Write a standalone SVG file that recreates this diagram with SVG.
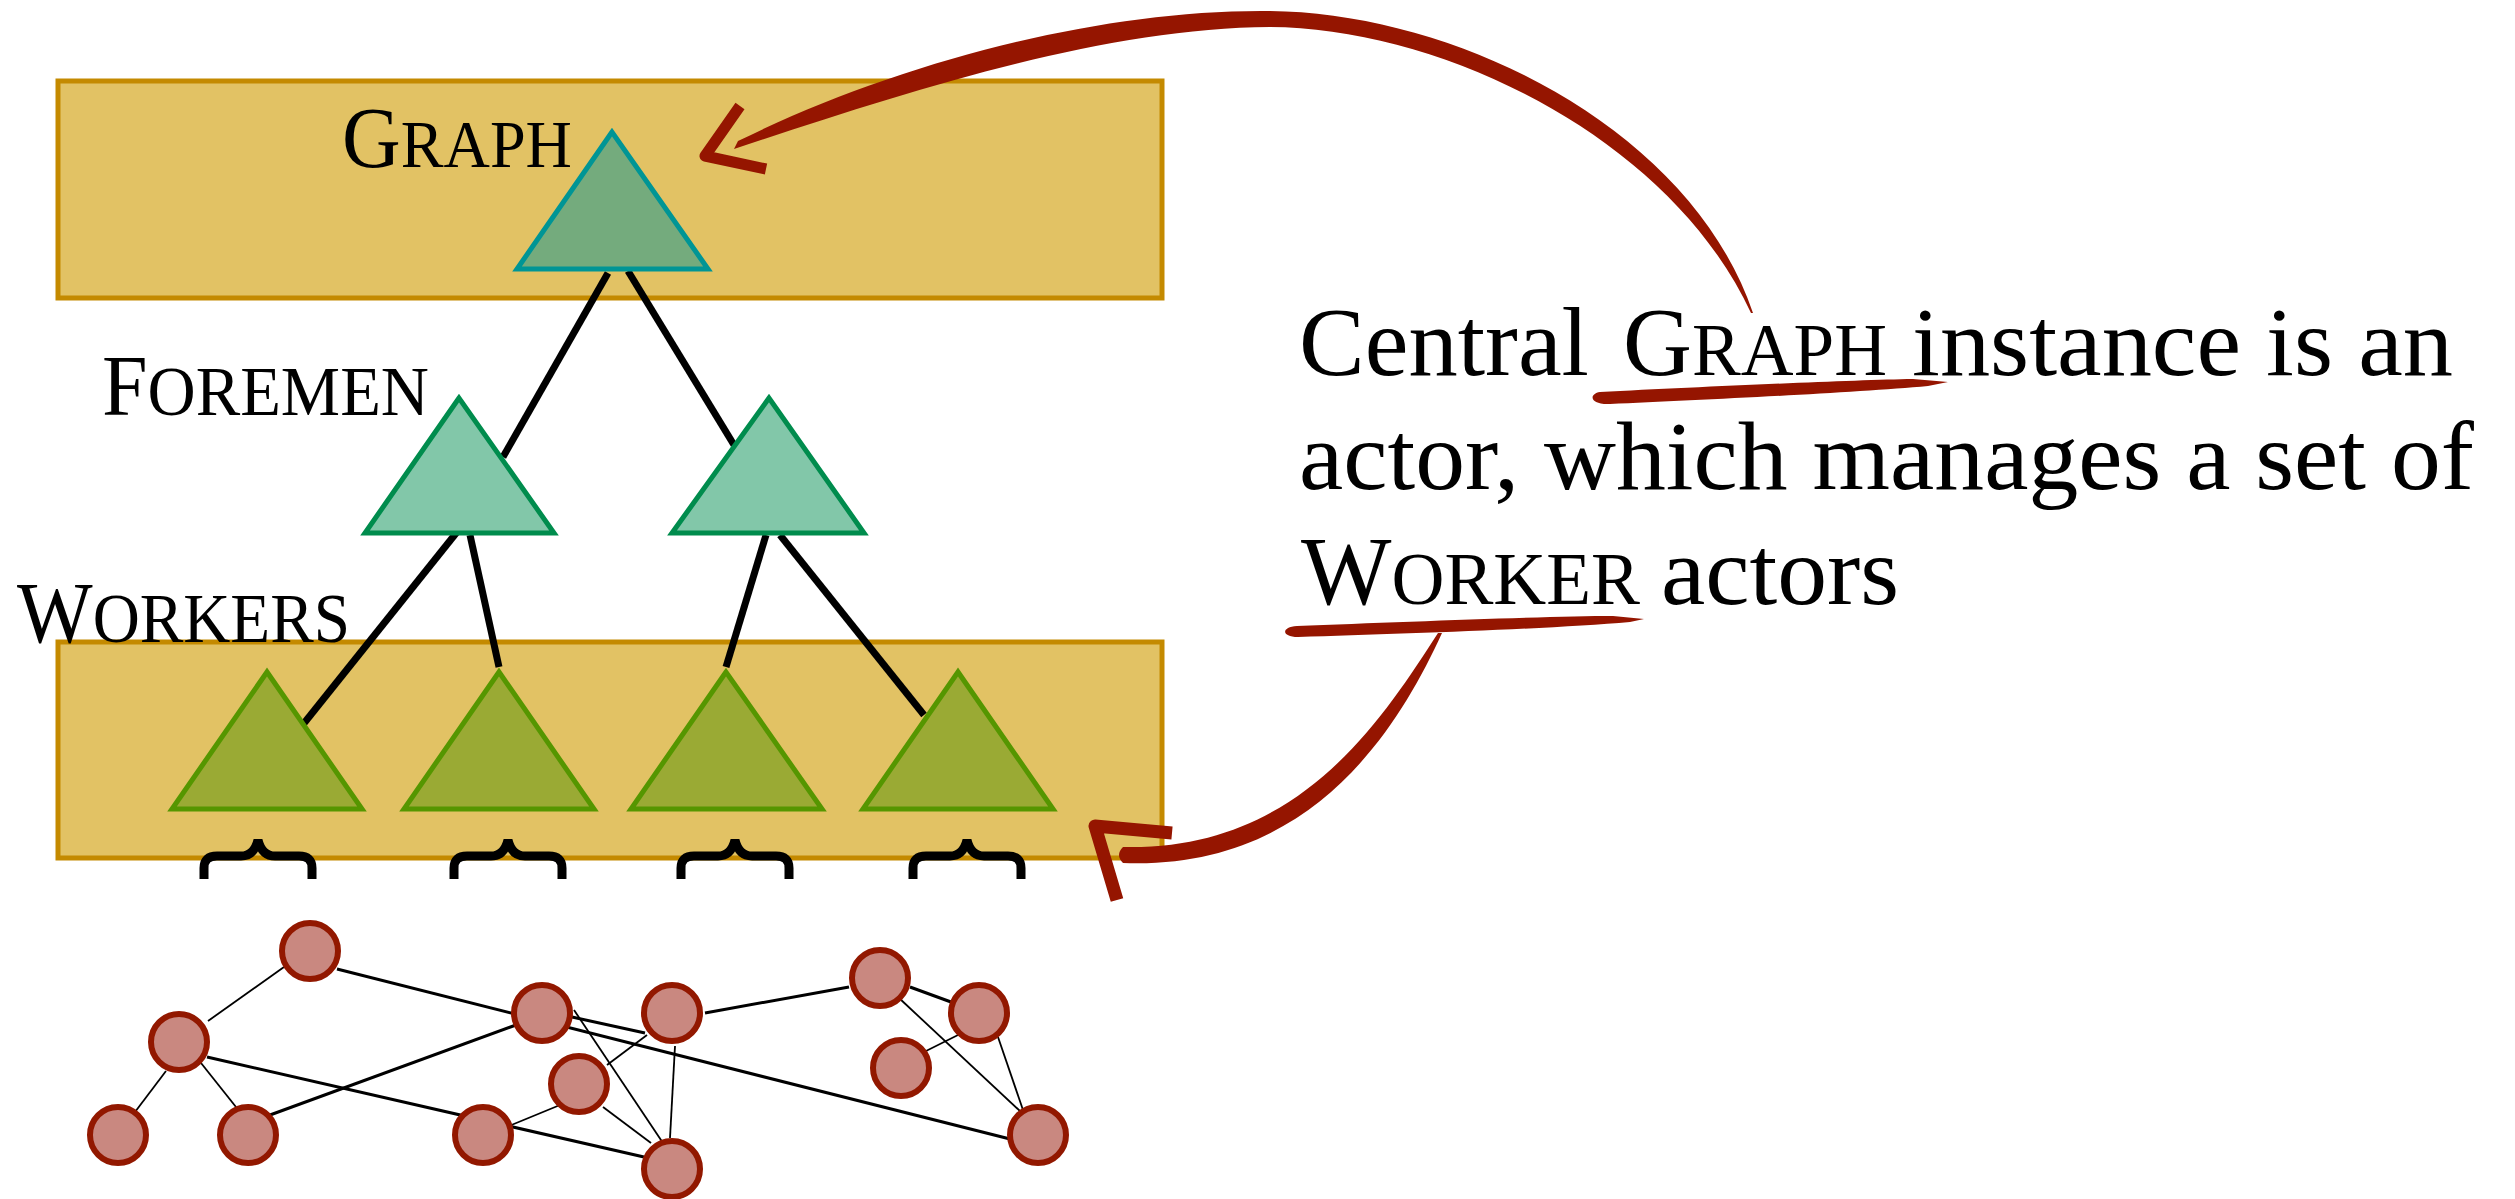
<svg xmlns="http://www.w3.org/2000/svg" width="2515" height="1199" viewBox="0 0 2515 1199">
<style>
.band{fill:#E2C264;stroke:#C48A00;stroke-width:5}
.lbl{font-family:"Liberation Serif","DejaVu Serif",serif;fill:#000}
.tri-g{fill:#74AB7D;stroke:#009595;stroke-width:5;stroke-linejoin:miter}
.tri-f{fill:#82C7A9;stroke:#008C4D;stroke-width:5}
.tri-w{fill:#9AAA34;stroke:#559600;stroke-width:5}
.tree{stroke:#000;stroke-width:7;fill:none}
.brace{fill:none;stroke:#000;stroke-width:9;stroke-linejoin:miter}
.node{fill:#C98880;stroke:#921800;stroke-width:6}
.thick{stroke:#000;stroke-width:3}
.thin{stroke:#000;stroke-width:1.8}
.brush{fill:#951500}
.brushline{fill:none;stroke:#951500;stroke-linejoin:round}
</style>

<g id="graph-band">
  <rect class="band" x="58" y="81" width="1104" height="217"/>
  <text class="lbl" x="342" y="167" font-size="86" textLength="230" lengthAdjust="spacingAndGlyphs">G<tspan font-size="68">RAPH</tspan></text>
</g>
<g id="workers-band">
  <rect class="band" x="58" y="642" width="1104" height="216"/>
</g>

<g id="labels">
  <text class="lbl" x="102" y="415" font-size="86" textLength="327" lengthAdjust="spacingAndGlyphs">F<tspan font-size="70">OREMEN</tspan></text>
  <text class="lbl" x="17" y="642" font-size="86" textLength="333" lengthAdjust="spacingAndGlyphs">W<tspan font-size="70">ORKERS</tspan></text>
</g>

<g id="connectors">
  <line class="tree" x1="608" y1="273" x2="503" y2="457"/>
  <line class="tree" x1="628" y1="271" x2="734" y2="445"/>
  <line class="tree" x1="457" y1="532" x2="301" y2="727"/>
  <line class="tree" x1="470" y1="535" x2="499" y2="667"/>
  <line class="tree" x1="766" y1="535" x2="726" y2="667"/>
  <line class="tree" x1="780" y1="535" x2="924" y2="715"/>
</g>

<g id="graph-node"><polygon class="tri-g" points="612,132 517,269 708,269"/></g>
<g id="foreman-1"><polygon class="tri-f" points="459,398 365,533 554,533"/></g>
<g id="foreman-2"><polygon class="tri-f" points="769,398 672,533 864,533"/></g>
<g id="worker-1"><polygon class="tri-w" points="267,672 172,809 362,809"/></g>
<g id="worker-2"><polygon class="tri-w" points="499,672 404,809 594,809"/></g>
<g id="worker-3"><polygon class="tri-w" points="726,672 631,809 822,809"/></g>
<g id="worker-4"><polygon class="tri-w" points="958,672 863,809 1053,809"/></g>

<g id="braces">
  <path class="brace" d="M204,879 L204,868 Q204,856 217,856 L241,856 Q254,856 258,840 Q262,856 275,856 L299,856 Q312,856 312,868 L312,879"/>
  <path class="brace" d="M454,879 L454,868 Q454,856 467,856 L491,856 Q504,856 508,840 Q512,856 525,856 L549,856 Q562,856 562,868 L562,879"/>
  <path class="brace" d="M681,879 L681,868 Q681,856 694,856 L718,856 Q731,856 735,840 Q739,856 752,856 L776,856 Q789,856 789,868 L789,879"/>
  <path class="brace" d="M913,879 L913,868 Q913,856 926,856 L950,856 Q963,856 967,840 Q971,856 984,856 L1008,856 Q1021,856 1021,868 L1021,879"/>
</g>

<g id="network-edges">
  <line class="thin" x1="284" y1="967" x2="208" y2="1021"/>
  <line class="thick" x1="337" y1="969" x2="1010" y2="1139"/>
  <line class="thin" x1="166" y1="1071" x2="135" y2="1112"/>
  <line class="thin" x1="201" y1="1063" x2="236" y2="1107"/>
  <line class="thick" x1="207" y1="1057" x2="644" y2="1157"/>
  <line class="thick" x1="270" y1="1115" x2="516" y2="1025"/>
  <line class="thick" x1="572" y1="1017" x2="645" y2="1033"/>
  <line class="thin" x1="574" y1="1010" x2="663" y2="1143"/>
  <line class="thin" x1="647" y1="1035" x2="607" y2="1065"/>
  <line class="thin" x1="675" y1="1046" x2="670" y2="1138"/>
  <line class="thick" x1="705" y1="1013" x2="849" y2="987"/>
  <line class="thin" x1="560" y1="1105" x2="509" y2="1126"/>
  <line class="thin" x1="603" y1="1107" x2="651" y2="1143"/>
  <line class="thick" x1="910" y1="987" x2="951" y2="1002"/>
  <line class="thin" x1="899" y1="998" x2="1021" y2="1112"/>
  <line class="thin" x1="958" y1="1035" x2="926" y2="1051"/>
  <line class="thin" x1="998" y1="1037" x2="1023" y2="1110"/>
</g>
<g id="network-nodes">
  <circle class="node" cx="310" cy="951" r="28"/>
  <circle class="node" cx="179" cy="1042" r="28"/>
  <circle class="node" cx="118" cy="1135" r="28"/>
  <circle class="node" cx="248" cy="1135" r="28"/>
  <circle class="node" cx="542" cy="1013" r="28"/>
  <circle class="node" cx="672" cy="1013" r="28"/>
  <circle class="node" cx="579" cy="1084" r="28"/>
  <circle class="node" cx="483" cy="1135" r="28"/>
  <circle class="node" cx="672" cy="1169" r="28"/>
  <circle class="node" cx="880" cy="978" r="28"/>
  <circle class="node" cx="979" cy="1013" r="28"/>
  <circle class="node" cx="901" cy="1068" r="28"/>
  <circle class="node" cx="1038" cy="1135" r="28"/>
</g>

<g id="annotation-text">
  <text class="lbl" x="1299" y="375" font-size="98" textLength="290" lengthAdjust="spacingAndGlyphs">Central</text>
  <text class="lbl" x="1623" y="375" font-size="98" textLength="264" lengthAdjust="spacingAndGlyphs">G<tspan font-size="75">RAPH</tspan></text>
  <text class="lbl" x="1912" y="375" font-size="98" textLength="541" lengthAdjust="spacingAndGlyphs">instance is an</text>
  <text class="lbl" x="1299" y="489" font-size="98" textLength="1175" lengthAdjust="spacingAndGlyphs">actor, which manages a set of</text>
  <text class="lbl" x="1301" y="604" font-size="98" textLength="339" lengthAdjust="spacingAndGlyphs">W<tspan font-size="75">ORKER</tspan></text>
  <text class="lbl" x="1661" y="604" font-size="98" textLength="238" lengthAdjust="spacingAndGlyphs">actors</text>
</g>

<g id="annotation-arrows">
  <path class="brush" d="M1600,392 C1700,387 1850,380 1913,379 L1948,382 L1928,386 C1850,393 1700,400 1610,404 C1590,405 1588,394 1600,392 Z"/>
  <path class="brush" d="M1297,626 C1400,622 1550,616 1613,616 L1644,619 L1630,622 C1550,629 1400,634 1298,637 C1281,637 1281,627 1297,626 Z"/>
  <path class="brush" d="M738,141 C897,63 1100,9 1270,11 C1457,13 1690,128 1753,313 L1751,313 C1670,138 1443,28 1270,27 C1100,28 903,93 734,149 Z"/>
  <path class="brushline" stroke-width="11" d="M740,106 L705,156 L766,169"/>
  <path class="brush" d="M1438,633 L1442,633 C1393,740 1305,870 1123,863 Q1115,855 1123,847 C1295,851 1377,728 1438,633 Z"/>
  <path class="brushline" stroke-width="13" d="M1172,833 L1095,826 L1117,900"/>
</g>
</svg>
